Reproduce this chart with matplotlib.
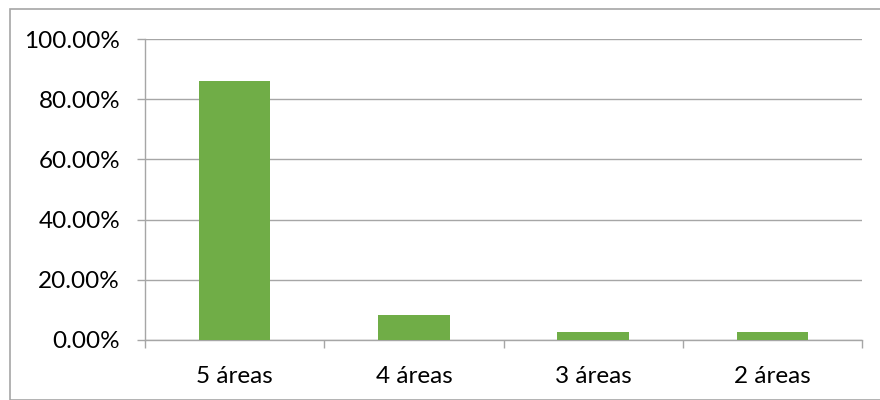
import numpy as np
import matplotlib
matplotlib.use("Agg")
import matplotlib.pyplot as plt
import matplotlib.ticker as mticker
from matplotlib.patches import Rectangle

# data
categories = ["5 áreas", "4 áreas", "3 áreas", "2 áreas"]
shares = [86.0, 8.2, 2.6, 2.6]
y_ticks = [0, 20, 40, 60, 80, 100]

BAR_COLOR = "#70AD47"
GRID_COLOR = "#A6A6A6"

plt.rcParams["font.family"] = ["Lato", "DejaVu Sans"]

fig = plt.figure(figsize=(8.8, 4.0), dpi=100)
ax = fig.add_axes([145 / 880, 1 - 340 / 400, (862 - 145) / 880, (340 - 39) / 400])

x = np.arange(len(categories))
ax.bar(x, shares, width=0.4, color=BAR_COLOR, zorder=3)

ax.set_xlim(-0.5, len(categories) - 0.5)
ax.set_ylim(0, 100)
ax.set_yticks(y_ticks)
ax.yaxis.set_major_formatter(mticker.FuncFormatter(lambda v, p: f"{v:.2f}%"))
ax.grid(axis="y", color=GRID_COLOR, lw=1.0, zorder=0)

# category labels centred, ticks at the category boundaries
ax.set_xticks(x)
ax.set_xticklabels(categories)
ax.set_xticks(np.arange(-0.5, len(categories)), minor=True)
ax.tick_params(axis="x", which="major", length=0, pad=19, labelsize=17.5, colors="black")
ax.tick_params(axis="x", which="minor", length=6, width=1, color=GRID_COLOR)
ax.tick_params(axis="y", length=6, width=1, color=GRID_COLOR, pad=12, labelsize=17.5)

for s in ["top", "right"]:
    ax.spines[s].set_visible(False)
for s in ["left", "bottom"]:
    ax.spines[s].set_color(GRID_COLOR)
    ax.spines[s].set_linewidth(1.0)

# outer chart border
fig.patches.append(Rectangle((10 / 880, 0), 1, 1 - 9 / 400, transform=fig.transFigure,
                             fill=False, edgecolor=GRID_COLOR, lw=1.2))

fig.savefig("out.png", dpi=100)
